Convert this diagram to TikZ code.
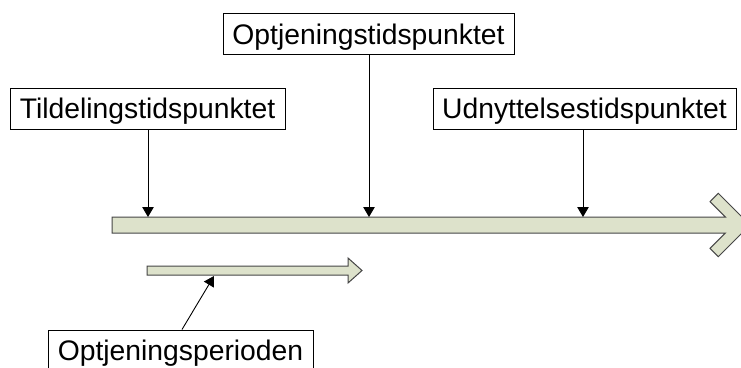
\documentclass[tikz,border=0pt]{standalone}
\usepackage{fontspec}
\setmainfont{Liberation Sans}
\usetikzlibrary{arrows.meta}
\definecolor{shaftfill}{RGB}{221,226,203}
\definecolor{shaftline}{RGB}{70,70,70}
\tikzset{
  lbl/.style={draw=black, line width=1pt, fill=white, inner sep=0pt,
    font=\fontsize{28.3}{34}\selectfont, text height=20.3pt, text depth=0pt,
    minimum height=41pt},
  pointer/.style={draw=black, line width=0.9pt, -{Triangle[length=10pt,width=11.5pt]}},
  block/.style={draw=shaftline, line width=1pt, fill=shaftfill, line join=miter}
}
\begin{document}
\begin{tikzpicture}[x=1pt,y=-1pt]
\clip (0,0) rectangle (741,367);
\fill[white] (0,0) rectangle (741,367);
% big timeline arrow
\draw[block] (112,217) -- (725.3,217) -- (710,201.7) -- (718.3,193.3) -- (750,225)
  -- (718.3,256.7) -- (710,248.3) -- (725.3,233) -- (112,233) -- cycle;
% small period arrow
\draw[block] (147,266) -- (348,266) -- (348,258) -- (362,270.5) -- (348,283)
  -- (348,275) -- (147,275) -- cycle;
% target points
\coordinate (t1) at (148,217);
\coordinate (t2) at (369,217);
\coordinate (t3) at (583,217);
\coordinate (t4) at (214,276);
% label boxes
\node[lbl, minimum width=275pt] (b1) at (147.5,108.5) {Tildelingstidspunktet};
\node[lbl, minimum width=291pt] (b2) at (368.5,34) {Optjeningstidspunktet};
\node[lbl, minimum width=303pt] (b3) at (584.5,108.5) {Udnyttelsestidspunktet};
\node[lbl, minimum width=265pt] (b4) at (180.5,350.5) {Optjeningsperioden};
% connectors
\draw[pointer] (b1.south -| t1) -- (t1);
\draw[pointer] (b2.south -| t2) -- (t2);
\draw[pointer] (b3.south -| t3) -- (t3);
\draw[pointer] ([xshift=1.5pt]b4.north) -- (t4);
\end{tikzpicture}
\end{document}
